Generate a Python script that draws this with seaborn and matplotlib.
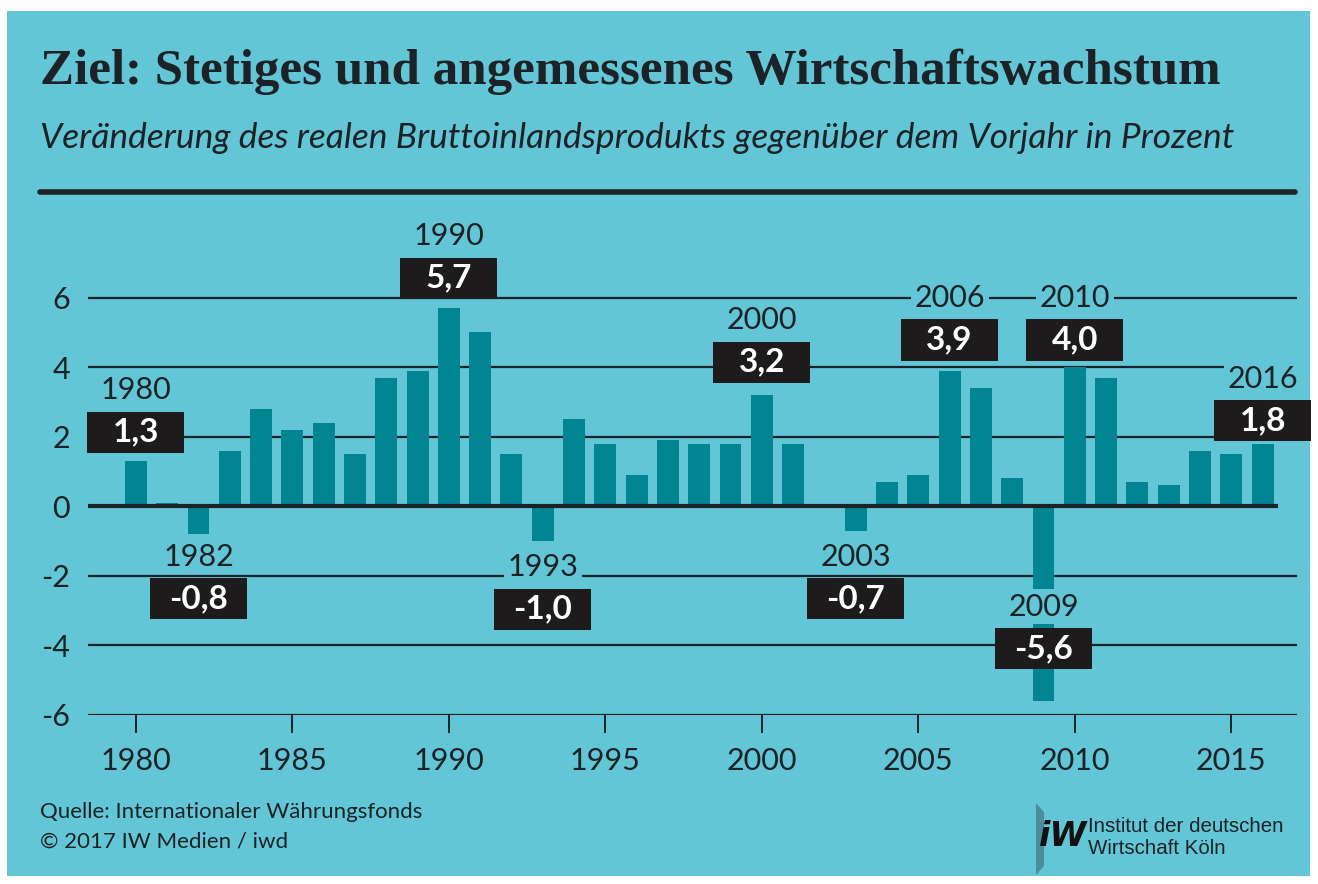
import matplotlib
matplotlib.use("Agg")
import matplotlib.pyplot as plt
import matplotlib.patches as mpatches
import seaborn as sns
import pandas as pd

# Daten: Veränderung des realen BIP gegenüber Vorjahr (%)
years = list(range(1980, 2017))
growth = [1.3, 0.1, -0.8, 1.6, 2.8, 2.2, 2.4, 1.5, 3.7, 3.9,
          5.7, 5.0, 1.5, -1.0, 2.5, 1.8, 0.9, 1.9, 1.8, 1.8,
          3.2, 1.8, 0.0, -0.7, 0.7, 0.9, 3.9, 3.4, 0.8, -5.6,
          4.0, 3.7, 0.7, 0.6, 1.6, 1.5, 1.8]
highlight_years = [1980, 1982, 1990, 1993, 2000, 2003, 2006, 2009, 2010, 2016]
xtick_years = [1980, 1985, 1990, 1995, 2000, 2005, 2010, 2015]
ytick_vals = [-6, -4, -2, 0, 2, 4, 6]

# Layout: Höhe (Datenkoordinate) der Wertkästchen
box_y = {1980: 2.13, 1982: -2.65, 1990: 6.56, 1993: -2.96, 2000: 4.14,
         2003: -2.65, 2006: 4.78, 2009: -4.09, 2010: 4.78, 2016: 2.47}

BG = "#62c6d6"
BAR = "#018592"
INK = "#1c2226"
BOX = "#1d1b1b"

df = pd.DataFrame({"Jahr": years, "Wachstum": growth})

sns.set_theme(style="white")
plt.rcParams["font.family"] = ["Lato", "DejaVu Sans"]

fig = plt.figure(figsize=(13.18, 8.84), dpi=100, facecolor="white")
W, H = 1318, 884
fig.patches.append(mpatches.Rectangle((7 / W, 1 - 876 / H), 1303 / W, 865 / H,
                                      transform=fig.transFigure, facecolor=BG,
                                      edgecolor="none", zorder=-10))

ax = fig.add_axes([88 / W, 1 - 715 / H, (1297 - 88) / W, (715 - 221) / H])
ax.set_facecolor("none")
ax.set_zorder(2)

sns.barplot(data=df, x="Jahr", y="Wachstum", native_scale=True, width=0.7,
            color=BAR, saturation=1, linewidth=0, ax=ax, zorder=3)

ax.set_xlim(1978.47, 2017.1)
ax.set_ylim(-6, 8.2)
for v in ytick_vals:
    if v == 0:
        continue
    ax.axhline(v, color=INK, lw=1.6, zorder=1)
ax.plot([1978.47, 2016.5], [0, 0], color=INK, lw=3, zorder=4, solid_capstyle="butt")

sns.despine(ax=ax, left=True, bottom=True, top=True, right=True)
ax.set_xticks(xtick_years)
ax.set_xticklabels([str(y) for y in xtick_years])
ax.set_yticks(ytick_vals)
ax.set_yticklabels([str(v) for v in ytick_vals])
ax.tick_params(axis="x", length=13, width=1.4, color=INK, direction="out",
               labelsize=22, labelcolor=INK, pad=10, bottom=True)
ax.tick_params(axis="y", length=0, labelsize=22, labelcolor=INK, pad=13, left=True)
ax.set_xlabel("")
ax.set_ylabel("")

# Hervorgehobene Werte: schwarzes Kästchen + Jahreszahl darüber
for yr in highlight_years:
    val = growth[years.index(yr)]
    by = box_y[yr]
    ax.add_patch(mpatches.Rectangle((yr - 1.55, by - 0.59), 3.1, 1.18,
                                    facecolor=BOX, edgecolor="none",
                                    zorder=5.5, clip_on=False))
    ax.text(yr, by, f"{val:.1f}".replace(".", ","), ha="center", va="center",
            fontsize=24, fontweight="bold", color="white", zorder=6,
            clip_on=False)
    ax.text(yr, by + 1.2, str(yr), ha="center", va="center", fontsize=22,
            color=INK, zorder=5,
            bbox=dict(boxstyle="square,pad=0.12", facecolor=BG, edgecolor="none"),
            clip_on=False)

# Titel und Untertitel
fig.text(40 / W, 1 - 72 / H, "Ziel: Stetiges und angemessenes Wirtschaftswachstum",
         fontsize=36.7, fontweight="bold", family=["Liberation Serif", "DejaVu Serif"],
         color=INK, va="center", ha="left")
fig.text(40 / W, 1 - 138 / H,
         "Veränderung des realen Bruttoinlandsprodukts gegenüber dem Vorjahr in Prozent",
         fontsize=25.5, style="italic", color=INK, va="center", ha="left")
fig.add_artist(plt.Line2D([40 / W, 1295 / W], [1 - 192 / H, 1 - 192 / H],
                          transform=fig.transFigure, color=INK, lw=4))

# Fußzeile
fig.text(40 / W, 1 - 812 / H, "Quelle: Internationaler Währungsfonds",
         fontsize=16, color=INK, va="center", ha="left")
fig.text(40 / W, 1 - 842 / H, "© 2017 IW Medien / iwd",
         fontsize=16, color=INK, va="center", ha="left")

# Logo (vereinfacht)
fig.patches.append(mpatches.Polygon([(1036 / W, 1 - 803 / H), (1044 / W, 1 - 812 / H),
                                     (1044 / W, 1 - 866 / H), (1036 / W, 1 - 875 / H)],
                                    closed=True, transform=fig.transFigure,
                                    facecolor="#4c8c9c", edgecolor="none", zorder=2))
fig.text(1063 / W, 1 - 836 / H, "iW", fontsize=24, fontweight="heavy",
         style="italic", family=["DejaVu Sans"], color="#111111",
         va="center", ha="center")
fig.text(1088 / W, 1 - 826 / H, "Institut der deutschen", fontsize=14.8,
         family=["Liberation Sans", "DejaVu Sans"], color=INK, va="center", ha="left")
fig.text(1088 / W, 1 - 849 / H, "Wirtschaft Köln", fontsize=14.8,
         family=["Liberation Sans", "DejaVu Sans"], color=INK, va="center", ha="left")

fig.savefig("out.png", dpi=100, facecolor="white")
